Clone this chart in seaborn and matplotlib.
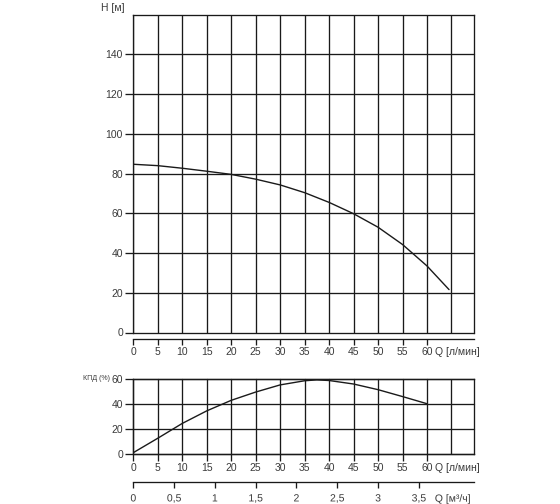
import numpy as np
import matplotlib
matplotlib.use("Agg")
import matplotlib.pyplot as plt
import matplotlib.patheffects as pe
import seaborn as sns

# Pump curve data
q_head = [0, 5, 10, 15, 20, 25, 30, 35, 40, 45, 50, 55, 60, 64.5]      # Q, l/min
head = [84.7, 84.0, 82.7, 81.2, 79.6, 77.2, 74.3, 70.4, 65.5, 59.8, 53.0, 44.3, 33.5, 21.6]  # H, m

q_eff = [0, 5, 10, 15, 20, 25, 30, 35, 37.5, 40, 45, 50, 55, 60]
eff = [1.3, 12.8, 24.6, 34.6, 43.0, 49.6, 55.3, 58.6, 59.3, 58.8, 56.0, 51.5, 46.0, 40.3]  # %

q_ticks = list(range(0, 61, 5))
h_ticks = [0, 20, 40, 60, 80, 100, 120, 140]
eff_ticks = [0, 20, 40, 60]
m3h_ticks = [0, 0.5, 1, 1.5, 2, 2.5, 3, 3.5]
m3h_labels = ["0", "0,5", "1", "1,5", "2", "2,5", "3", "3,5"]

sns.set_style("white")
plt.rcParams['font.family'] = ['Liberation Sans', 'DejaVu Sans']

ink = '#1a1a1a'
txt = '#3a3a3a'
lw = 0.95
fs = 7.5

fig = plt.figure(figsize=(5.6, 5.04), dpi=100)
L, R = 133.3 / 560, 474 / 560
ax1 = fig.add_axes([L, 1 - 332.5 / 504, R - L, (332.5 - 14.7) / 504])
ax2 = fig.add_axes([L, 1 - 454.3 / 504, R - L, (454.3 - 379) / 504])


def style(ax, xlen, xpad):
    ax.set_xlim(0, 69.6)
    ax.set_xticks(q_ticks)
    ax.set_xticklabels([str(t) for t in q_ticks])
    ax.set_xticks([65], minor=True)
    ax.grid(True, which='major', color=ink, lw=lw)
    ax.grid(True, which='minor', axis='x', color=ink, lw=lw)
    for g in ax.xaxis.get_gridlines() + ax.yaxis.get_gridlines():
        g.set_clip_on(False)
    for s in ax.spines.values():
        s.set_color(ink)
        s.set_linewidth(lw)
        s.set_visible(True)
    ax.tick_params(axis='y', which='major', direction='out', length=6, width=lw,
                   color=ink, labelsize=fs, labelcolor=txt, pad=1.5, left=True)
    ax.tick_params(axis='x', which='major', direction='out', length=xlen, width=lw,
                   color=ink, labelsize=fs, labelcolor=txt, pad=xpad, bottom=True)
    ax.tick_params(axis='x', which='minor', length=0)
    ax.set_xlabel('')
    ax.set_ylabel('')


# Head curve
sns.lineplot(x=q_head, y=head, ax=ax1, color=ink, lw=1.0)
ax1.set_ylim(0, 160)
ax1.set_yticks(h_ticks)
style(ax1, 4, 1.5)
ax1.spines['bottom'].set_position(('outward', 5))
ax1.text(-0.06, 1.022, 'H [м]', transform=ax1.transAxes, ha='center', va='center',
         fontsize=fs, color=txt)
ax1.annotate('Q [л/мин]', xy=(61.6, 0), xycoords=('data', 'axes fraction'),
             xytext=(0, -14), textcoords='offset points', ha='left', va='center',
             fontsize=fs, color=txt)

# Efficiency curve
sns.lineplot(x=q_eff, y=eff, ax=ax2, color=ink, lw=1.0)
ax2.set_ylim(0, 60)
ax2.set_yticks(eff_ticks)
style(ax2, 5, 1.5)
ax2.text(-0.068, 1.0, 'КПД (%)', transform=ax2.transAxes, ha='right', va='center',
         fontsize=5, color=txt)
ax2.annotate('Q [л/мин]', xy=(61.6, 0), xycoords=('data', 'axes fraction'),
             xytext=(0, -10), textcoords='offset points', ha='left', va='center',
             fontsize=fs, color=txt)

# Second flow scale in m3/h
sec = ax2.secondary_xaxis(-0.372, functions=(lambda q: np.asarray(q) * 60 / 1000,
                                             lambda m: np.asarray(m) * 1000 / 60))
sec.set_xticks(m3h_ticks)
sec.set_xticklabels(m3h_labels, path_effects=[pe.Normal()])
sec.spines['bottom'].set_color(ink)
sec.spines['bottom'].set_linewidth(lw)
sec.tick_params(direction='out', length=4.5, width=lw, color=ink, labelsize=fs,
                labelcolor=txt, pad=3.5)
ax2.annotate('Q [м³/ч]', xy=(61.6, -0.372), xycoords=('data', 'axes fraction'),
             xytext=(0, -11.8), textcoords='offset points', ha='left', va='center',
             fontsize=fs, color=txt, path_effects=[pe.Normal()])

fig.savefig('out.png', dpi=100)
